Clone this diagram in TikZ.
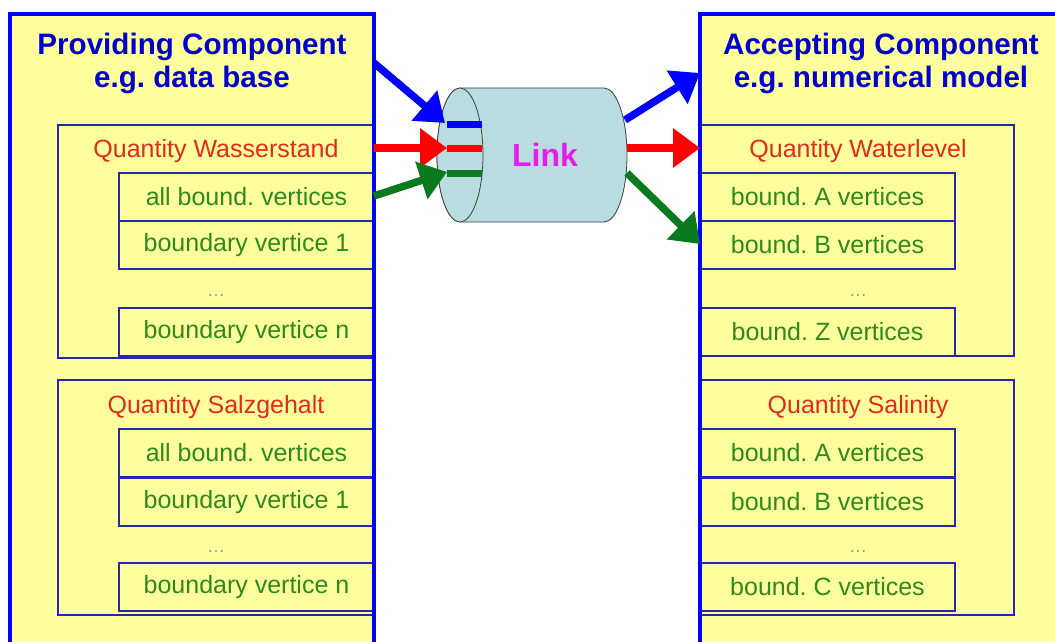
\documentclass[tikz,border=0pt]{standalone}
\usepackage{fontspec}
\setmainfont{Liberation Sans}
\usetikzlibrary{arrows.meta}
\definecolor{boxyellow}{HTML}{FFFF9E}
\definecolor{bblue}{HTML}{0000FF}
\definecolor{tblue}{HTML}{0000CC}
\definecolor{qred}{HTML}{E42A1E}
\definecolor{vgreen}{HTML}{2E8A1E}
\definecolor{agreen}{HTML}{0A7A1E}
\definecolor{cylfill}{HTML}{B9DCE1}
\definecolor{navy}{HTML}{2626B4}
\definecolor{linkmag}{HTML}{E81CE8}
\frenchspacing
\begin{document}
\begin{tikzpicture}[x=1pt,y=-1pt,
  outerbox/.style={fill=boxyellow,draw=none,anchor=north west,inner sep=0pt,outer sep=0pt},
  outerline/.style={draw=bblue,line width=3.5pt},
  qbox/.style={draw=navy,fill=boxyellow,line width=1.5pt,anchor=north west,inner sep=0pt,outer sep=0pt},
  vbox/.style={draw=navy,fill=boxyellow,line width=1.5pt,anchor=north west,inner sep=0pt,outer sep=0pt,
    minimum width=255pt,minimum height=48pt,text=vgreen,font=\fontsize{25}{30}\selectfont},
  title/.style={text=tblue,align=center,font=\fontsize{29.6}{33}\selectfont\bfseries},
  qlabel/.style={text=qred,font=\fontsize{25}{30}\selectfont},
  dots/.style={text=gray!80,font=\fontsize{18}{20}\selectfont},
  flow/.style={line width=7.5pt,-{Triangle[length=27pt,width=38pt]}},
  stub/.style={line width=7pt}
]
\useasboundingbox (0,0) rectangle (1055,642);
\clip (0,0) rectangle (1055,642);
\fill[white] (0,0) rectangle (1055,642);

% outer component boxes
\node[outerbox,minimum width=364pt,minimum height=700pt] (prov) at (10,14) {};
\node[outerbox,minimum width=400pt,minimum height=700pt] (acc) at (700,14) {};

\node[title] (provt) at (192,63) {Providing Component\\e.g. data base};
\node[title] (acct) at (881,63) {Accepting Component\\e.g. numerical model};

% providing side
\node[qbox,minimum width=316pt,minimum height=233pt] (pq1) at (58,125) {};
\node[qlabel] (pq1t) at (216,151) {Quantity Wasserstand};
\node[vbox] (pv11) at (119,173) {all bound. vertices};
\node[vbox] (pv12) at (119,221) {boundary vertice 1};
\node[dots] (pd1) at (216,296) {\ldots};
\node[vbox] (pv1n) at (119,308) {boundary vertice n};

\node[qbox,minimum width=316pt,minimum height=235pt] (pq2) at (58,380) {};
\node[qlabel] (pq2t) at (216,407) {Quantity Salzgehalt};
\node[vbox] (pv21) at (119,429) {all bound. vertices};
\node[vbox] (pv22) at (119,478) {boundary vertice 1};
\node[dots] (pd2) at (216,552) {\ldots};
\node[vbox] (pv2n) at (119,563) {boundary vertice n};

% accepting side
\node[qbox,minimum width=314pt,minimum height=231pt] (aq1) at (700,125) {};
\node[qlabel] (aq1t) at (858,151) {Quantity Waterlevel};
\node[vbox] (av11) at (700,173) {bound. A vertices};
\node[vbox] (av12) at (700,221) {bound. B vertices};
\node[dots] (ad1) at (858,296) {\ldots};
\node[vbox] (av1n) at (700,308) {bound. Z vertices};

\node[qbox,minimum width=314pt,minimum height=235pt] (aq2) at (700,380) {};
\node[qlabel] (aq2t) at (858,407) {Quantity Salinity};
\node[vbox] (av21) at (700,429) {bound. A vertices};
\node[vbox] (av22) at (700,478) {bound. B vertices};
\node[dots] (ad2) at (858,552) {\ldots};
\node[vbox] (av2n) at (700,563) {bound. C vertices};

% outer borders on top
\draw[outerline] (prov.north west) rectangle (prov.south east);
\draw[outerline] (acc.north west) rectangle (acc.south east);

% cylinder
\draw[fill=cylfill,draw=black!75,line width=0.8pt]
  (460,88) -- (604,88) arc[start angle=-90,end angle=90,x radius=23,y radius=67]
  -- (460,222) arc[start angle=90,end angle=270,x radius=23,y radius=67] -- cycle;
\draw[fill=cylfill,draw=black!75,line width=0.8pt] (460,155) ellipse[x radius=23,y radius=67];
\node[text=linkmag,font=\fontsize{32}{36}\selectfont\bfseries] (link) at (545,155) {Link};

% coordinates of connectors
\coordinate (lb0) at (374,63);  \coordinate (lb1) at (445,123);
\coordinate (lr0) at (374,148); \coordinate (lr1) at (447,148);
\coordinate (lg0) at (374,196); \coordinate (lg1) at (447,172);
\coordinate (sb0) at (447,124); \coordinate (sb1) at (482,124);
\coordinate (sr0) at (447,148); \coordinate (sr1) at (482,148);
\coordinate (sg0) at (447,173); \coordinate (sg1) at (482,173);
\coordinate (rb0) at (625,120); \coordinate (rb1) at (700,73);
\coordinate (rr0) at (627,148); \coordinate (rr1) at (700,148);
\coordinate (rg0) at (627,173); \coordinate (rg1) at (700,244);

\draw[stub,bblue] (sb0) -- (sb1);
\draw[stub,red] (sr0) -- (sr1);
\draw[stub,agreen] (sg0) -- (sg1);
\draw[flow,bblue] (lb0) -- (lb1);
\draw[flow,red] (lr0) -- (lr1);
\draw[flow,agreen] (lg0) -- (lg1);
\draw[flow,bblue] (rb0) -- (rb1);
\draw[flow,red] (rr0) -- (rr1);
\draw[flow,agreen] (rg0) -- (rg1);
\end{tikzpicture}
\end{document}
